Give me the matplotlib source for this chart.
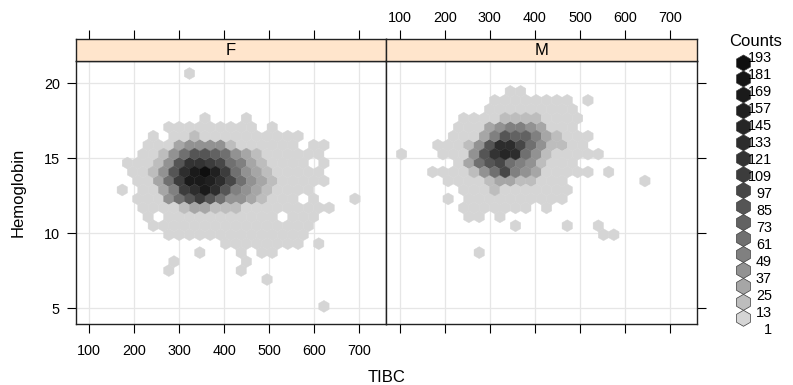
import numpy as np
import matplotlib
matplotlib.use("Agg")
import matplotlib.pyplot as plt
from matplotlib.colors import ListedColormap, BoundaryNorm
from matplotlib.patches import RegularPolygon

plt.rcParams['font.family'] = ['Liberation Sans', 'DejaVu Sans']

# ---------------- data ----------------
panels = ["F", "M"]
x_label = "TIBC"
y_label = "Hemoglobin"
legend_title = "Counts"
x_ticks = [100, 200, 300, 400, 500, 600, 700]
y_ticks = [5, 10, 15, 20]
count_breaks = [1, 13, 25, 37, 49, 61, 73, 85, 97, 109, 121, 133, 145, 157, 169, 181, 193]
level_colors = ['#d5d5d5', '#bdbdbd', '#a6a6a6', '#929292', '#808080', '#707070',
                '#626262', '#555555', '#474747', '#3c3c3c', '#333333', '#2d2d2d',
                '#262626', '#202020', '#1a1a1a', '#151515', '#0f0f0f']
x_range = (69.8, 759.3)
y_range = (3.93, 21.47)
x_bins = 30
top_row = 28

# hex cells, one string per hexagon row (top row first), one char per column:
# '.' = empty, otherwise the count level (0..g) read from the grey shade
F_rows = [
    "...........0",                      # 28
    "",                                  # 27
    "",                                  # 26
    "",                                  # 25
    "",                                  # 24
    "............0...0",                 # 23
    ".........000000000.0",              # 22
    ".......0.0010000000000",            # 21
    ".......000233331000000.00",         # 20
    "......001357765321000000",          # 19
    ".....000137aa9854210000.0",         # 18
    ".....00137begd9532100000",          # 17
    "......00259eedb8532100000",         # 16
    "....0.00249beb743210000",           # 15
    "......0003579753321000.0...0",      # 14
    "......0000122111000000000",         # 13
    ".......0.00000000000.000",          # 12
    ".......0000000000000000",           # 11
    ".........00000000000000",           # 10
    "..............00000000.0",          # 9
    "............0...0.00",              # 8
    ".........0......0",                 # 7
    ".........0......0",                 # 6
    "..................0",               # 5
    "",                                  # 4
    "",                                  # 3
    "........................0",         # 2
]

M_rows = [
    "",                                  # 28
    "",                                  # 27
    "............00",                    # 26
    "..........00000000.0",              # 25
    "..........000000000",               # 24
    ".......000011110000",               # 23
    ".......000234432000",               # 22
    "......00024766421000",              # 21
    ".....000137bb8531100",              # 20
    ".0...00037acb53100000",             # 19
    ".......025785431000",               # 18
    "....0000135843200000.0",            # 17
    "......000012211000.......0",        # 16
    ".......00010000000",                # 15
    "......0.0000000000",                # 14
    ".......0000000.0",                  # 13
    "........00.0",                      # 12
    "............0....0..0",             # 11
    ".....................00",           # 10
    "",                                  # 9
    ".........0",                        # 8
    "", "", "", "", "", "",              # 7..2
]
panel_rows = {"F": F_rows, "M": M_rows}

# ---------------- layout (pixels) ----------------
W, H = 793, 385
PX_LEFT, PX_MID, PX_RIGHT = 75.7, 386.0, 696.7
PX_STRIP_TOP, PX_TOP, PX_BOTTOM = 39.3, 61.3, 324.3


def rect(x0, y0, x1, y1):
    return [x0 / W, 1 - y1 / H, (x1 - x0) / W, (y1 - y0) / H]


fig = plt.figure(figsize=(W / 100, H / 100), dpi=100)

cmap = ListedColormap(level_colors)
bounds = count_breaks + [count_breaks[-1] + 12]
norm = BoundaryNorm(bounds, cmap.N)

pw = PX_MID - PX_LEFT
ph = PX_BOTTOM - PX_TOP
sx = (x_range[1] - x_range[0]) / x_bins
dy = sx * (pw / (x_range[1] - x_range[0])) * np.sqrt(3) / 2 / (ph / (y_range[1] - y_range[0]))
ny = 15

frame_col = '#222222'
tick_fs = 10.4

for p_i, p in enumerate(panels):
    x0px = PX_LEFT if p_i == 0 else PX_MID
    x1px = PX_MID if p_i == 0 else PX_RIGHT
    ax = fig.add_axes(rect(x0px, PX_TOP, x1px, PX_BOTTOM))
    st = fig.add_axes(rect(x0px, PX_STRIP_TOP, x1px, PX_TOP), sharex=ax)

    xs, ys, cs = [], [], []
    for k, row in enumerate(panel_rows[p]):
        j = top_row - k
        for i, ch in enumerate(row):
            if ch == '.':
                continue
            lvl = int(ch, 36)
            xs.append(x_range[0] + (i + 0.5 * (j % 2)) * sx)
            ys.append(y_range[0] + j * dy)
            cs.append(count_breaks[lvl] + 6)

    ax.set_axisbelow(True)
    ax.grid(True, color='#e6e6e6', lw=0.9, zorder=0)
    ax.hexbin(xs, ys, C=cs, gridsize=(x_bins, ny),
              extent=(x_range[0], x_range[0] + x_bins * sx,
                      y_range[0], y_range[0] + ny * 2 * dy),
              reduce_C_function=np.sum, cmap=cmap, norm=norm,
              edgecolors='face', linewidths=0.3, zorder=3)
    ax.set_xlim(*x_range)
    ax.set_ylim(*y_range)
    ax.set_xticks(x_ticks)
    ax.set_yticks(y_ticks)
    for s in ax.spines.values():
        s.set_color(frame_col)
        s.set_linewidth(1.0)
        s.set_zorder(5)
    ax.tick_params(axis='x', direction='out', length=6.5, width=0.8,
                   bottom=True, top=False, labelbottom=(p_i == 0),
                   labelsize=tick_fs, pad=7.5)
    if p_i == 0:
        ax.tick_params(axis='y', direction='out', length=6.5, width=0.8,
                       left=True, right=False, labelleft=True,
                       labelsize=tick_fs, pad=5)
    else:
        ax.tick_params(axis='y', direction='out', length=6.5, width=0.8,
                       left=False, right=True, labelleft=False, labelright=False)

    # strip
    st.set_facecolor('#ffe5cc')
    st.set_ylim(0, 1)
    st.set_yticks([])
    for s in st.spines.values():
        s.set_color(frame_col)
        s.set_linewidth(1.0)
    st.tick_params(axis='x', direction='out', length=6.5, width=0.8,
                   bottom=False, top=True, labelbottom=False,
                   labeltop=(p_i == 1), labelsize=tick_fs, pad=3.5)
    st.text(0.5, 0.47, p, transform=st.transAxes, ha='center', va='center',
            fontsize=12)

# overlay for labels and the colour key
ov = fig.add_axes([0, 0, 1, 1], zorder=10)
ov.set_xlim(0, W)
ov.set_ylim(H, 0)
ov.axis('off')

ov.text(18, (PX_TOP + PX_BOTTOM) / 2, y_label, rotation=90, ha='center',
        va='center', fontsize=12)
ov.text((PX_LEFT + PX_RIGHT) / 2, 377, x_label, ha='center', va='center',
        fontsize=12)
ov.text(756, 41, legend_title, ha='center', va='center', fontsize=12)

n = len(count_breaks)
hex_top, hex_bot = 63.0, 318.3
lab_top, lab_bot = 58.3, 330.0
for k in range(n):
    lvl = n - 1 - k
    hy = hex_top + (hex_bot - hex_top) * k / (n - 1)
    ly = lab_top + (lab_bot - lab_top) * k / (n - 1)
    ov.add_patch(RegularPolygon((743.5, hy), numVertices=6, radius=8.0,
                                facecolor=level_colors[lvl], edgecolor='#3a3a3a',
                                lw=0.5))
    ov.text(772, ly, str(count_breaks[lvl]), ha='right', va='center',
            fontsize=tick_fs)

fig.savefig("out.png", dpi=100)
